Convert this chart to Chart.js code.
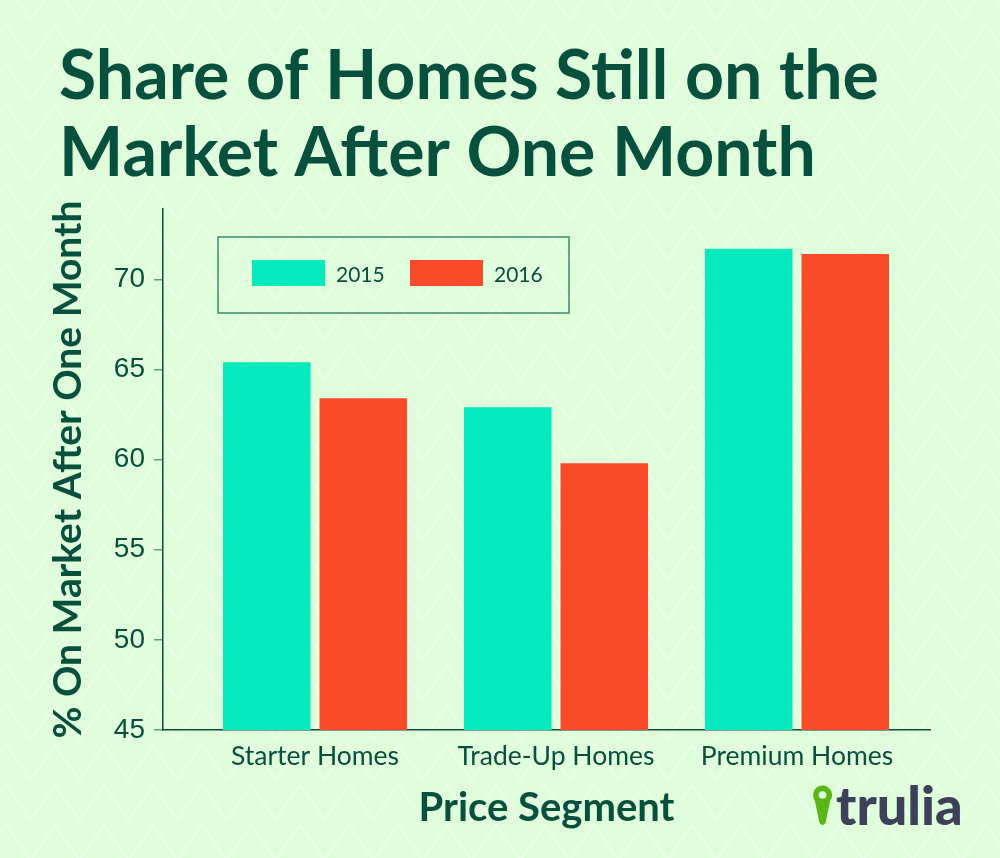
<!DOCTYPE html>
<html>
<head>
<meta charset="utf-8">
<script src="https://cdn.jsdelivr.net/npm/chart.js@4"></script>
<style>
  html, body { margin: 0; padding: 0; background: #dffcdb; }
  #wrap { width: 1000px; height: 858px; }
</style>
</head>
<body>
<div id="wrap"><canvas id="homesChart" width="1000" height="858"></canvas></div>
<script>
const titleLines = ["Share of Homes Still on the", "Market After One Month"];
const categories = ["Starter Homes", "Trade-Up Homes", "Premium Homes"];
const seriesLabels = ["2015", "2016"];
const share2015 = [65.4, 62.9, 71.7];
const share2016 = [63.4, 59.8, 71.4];
const yTicks = [45, 50, 55, 60, 65, 70];

const dark = "#07503e";
const bgColor = "#dffcdb";

// background with faint zigzag rows
const backdrop = {
  id: "backdrop",
  beforeDraw(chart) {
    const ctx = chart.ctx;
    ctx.save();
    ctx.fillStyle = bgColor;
    ctx.fillRect(0, 0, chart.width, chart.height);
    ctx.strokeStyle = "rgba(255,255,255,0.38)";
    ctx.lineWidth = 2;
    for (let y = -15; y < chart.height + 40; y += 40) {
      ctx.beginPath();
      for (let x = 6 - 49; x < chart.width + 49; x += 49) {
        ctx.lineTo(x, y);
        ctx.lineTo(x + 24.5, y + 35);
      }
      ctx.stroke();
    }
    ctx.restore();
  }
};

// boxed legend inside the plot
const boxLegend = {
  id: "boxLegend",
  afterDatasetsDraw(chart) {
    const ctx = chart.ctx;
    const ca = chart.chartArea;
    const bx = ca.left + 55, by = ca.top + 28;
    ctx.save();
    ctx.strokeStyle = "#3f8a70";
    ctx.lineWidth = 1.5;
    ctx.strokeRect(bx, by, 351, 76);
    ctx.font = "21px Lato";
    ctx.textBaseline = "middle";
    chart.data.datasets.forEach((ds, i) => {
      const sx = bx + 34 + i * 158;
      ctx.fillStyle = ds.backgroundColor;
      ctx.fillRect(sx, by + 23, 73, 26);
      ctx.fillStyle = dark;
      ctx.fillText(ds.label, sx + 84, by + 38);
    });
    ctx.restore();
  }
};

// trulia logo
const logo = {
  id: "logo",
  afterDraw(chart) {
    const ctx = chart.ctx;
    ctx.save();
    const cx = 822.5, cy = 795;
    ctx.fillStyle = "#5ab616";
    ctx.beginPath();
    ctx.arc(cx, cy, 9.5, Math.PI * 0.8, Math.PI * 2.2);
    ctx.lineTo(cx + 3, 823);
    ctx.quadraticCurveTo(cx, 827, cx - 3, 823);
    ctx.closePath();
    ctx.fill();
    ctx.fillStyle = bgColor;
    ctx.beginPath();
    ctx.arc(cx, cy, 3.8, 0, Math.PI * 2);
    ctx.fill();
    ctx.fillStyle = "#3c4058";
    ctx.font = "900 54px Lato";
    ctx.textBaseline = "alphabetic";
    ctx.fillText("trulia", 836, 825);
    ctx.restore();
  }
};

const ctx = document.getElementById("homesChart").getContext("2d");

new Chart(ctx, {
  type: "bar",
  data: {
    datasets: [
      {
        label: seriesLabels[0],
        data: share2015.map((v, i) => ({ x: i, y: v })),
        backgroundColor: "#05e9bd"
      },
      {
        label: seriesLabels[1],
        data: share2016.map((v, i) => ({ x: i, y: v })),
        backgroundColor: "#f94b2a"
      }
    ]
  },
  options: {
    responsive: false,
    animation: false,
    layout: { padding: { left: 59, right: 70, top: 0, bottom: 0 } },
    datasets: {
      bar: { categoryPercentage: 0.801, barPercentage: 0.907, borderWidth: 0 }
    },
    scales: {
      x: {
        type: "linear",
        offset: false,
        min: -0.631,
        max: 2.552,
        afterBuildTicks: s => { s.ticks = categories.map((c, i) => ({ value: i })); },
        afterFit: s => { s.height = 128; },
        ticks: {
          callback: v => categories[v],
          color: dark,
          font: { family: "Lato", size: 26.5 },
          padding: 11,
          autoSkip: false,
          maxRotation: 0
        },
        grid: { offset: false, drawOnChartArea: false, drawTicks: false },
        border: { display: true, color: "#0b4d3a", width: 1.5 },
        title: {
          display: true,
          text: "Price Segment",
          color: dark,
          font: { family: "Lato", size: 40, weight: "bold", lineHeight: 1.2 },
          padding: { top: 0, bottom: 26 }
        }
      },
      y: {
        min: 45,
        max: 73.9,
        afterBuildTicks: s => { s.ticks = yTicks.map(v => ({ value: v })); },
        afterFit: s => { s.width = 104; },
        ticks: {
          color: dark,
          font: { family: "Liberation Sans", size: 28 },
          padding: 9
        },
        grid: { drawOnChartArea: false, drawTicks: true, tickLength: 9, tickColor: "#5f9f86", lineWidth: 1.5 },
        border: { color: "#0b4d3a", width: 1.5 },
        title: {
          display: true,
          text: "% On Market After One Month",
          color: dark,
          font: { family: "Lato", size: 39, weight: "bold", lineHeight: 1 },
          padding: { top: -10, bottom: 0 }
        }
      }
    },
    plugins: {
      legend: { display: false },
      tooltip: { enabled: false },
      title: {
        display: true,
        text: titleLines,
        align: "start",
        color: dark,
        font: { family: "Lato", size: 68, weight: "bold", lineHeight: 77 / 68 },
        padding: { top: 38.5, bottom: 16.5 }
      }
    }
  },
  plugins: [backdrop, boxLegend, logo]
});
</script>
</body>
</html>
